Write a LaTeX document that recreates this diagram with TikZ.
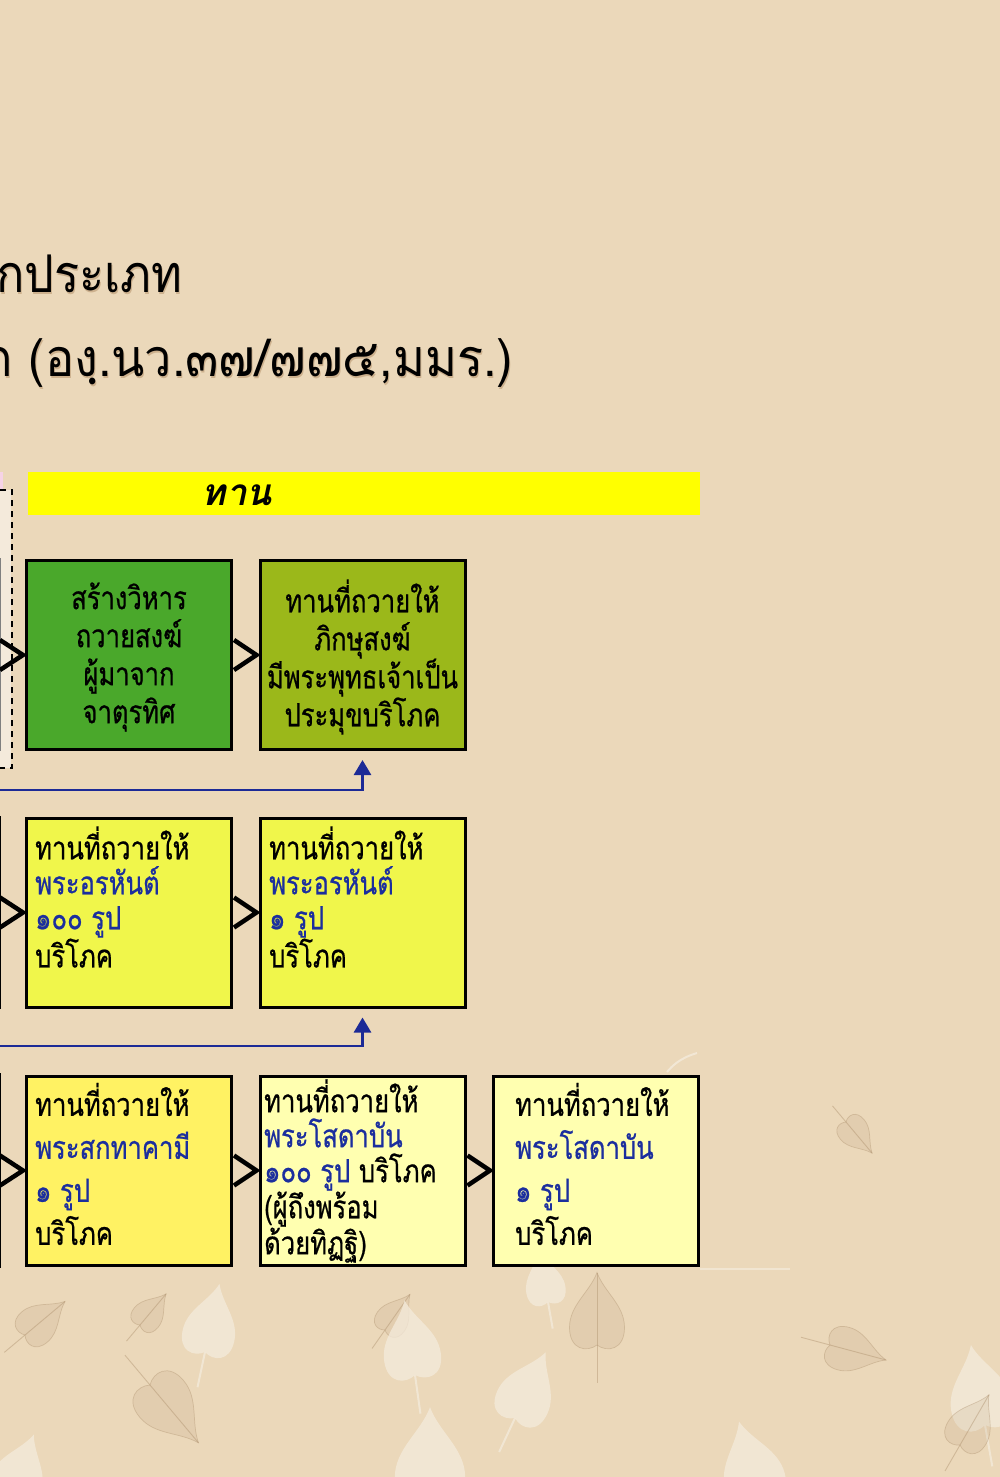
\documentclass[tikz,border=0pt]{standalone}
\usepackage{fontspec}
\newfontfamily\thai[Script=Thai]{Loma}
\newfontfamily\thaiB[Script=Thai,FakeStretch=0.8,FakeBold=0.6]{Loma}
\newfontfamily\thaiT[Script=Thai,FakeStretch=0.9]{Loma}
\newfontfamily\thaiU[Script=Thai,FakeStretch=0.935]{Loma}
\usetikzlibrary{arrows.meta,calc}
\definecolor{bg}{HTML}{EBD8BA}
\definecolor{cream}{HTML}{F4EBDC}
\definecolor{leafbrown}{HTML}{A88A66}
\definecolor{barY}{HTML}{FFFF00}
\definecolor{gA}{HTML}{4AA82B}
\definecolor{gB}{HTML}{9BB81A}
\definecolor{yA}{HTML}{F0F64B}
\definecolor{yB}{HTML}{FFF263}
\definecolor{yC}{HTML}{FFFFB0}
\definecolor{tblue}{HTML}{1B2E9E}
\definecolor{lblue}{HTML}{1C2A96}
\definecolor{pinkS}{HTML}{F6D3E6}
\definecolor{stripW}{HTML}{F4EADB}
\definecolor{shad}{HTML}{8A5A2A}
\tikzset{
 box/.style={draw=black, line width=3pt, minimum width=205pt, minimum height=189pt, inner sep=0pt},
 btxt/.style={font=\thaiB\fontsize{32}{35}\selectfont, inner sep=0pt, align=left, anchor=west},
 ctxt/.style={font=\thaiB\fontsize{32}{38}\selectfont, inner sep=0pt, align=center},
 chev/.style={draw=black, line width=4.5pt, miter limit=10},
 bline/.style={draw=lblue, line width=2.8pt, -{Triangle[width=17pt,length=15pt]}},
 ttl/.style={font=\thaiT\fontsize{52}{60}\selectfont, inner sep=0pt, anchor=base west},
 ttlb/.style={font=\thaiU\fontsize{52}{60}\selectfont, inner sep=0pt, anchor=base west},
 cleaf/.style={fill=cream, opacity=0.75},
 bleaf/.style={fill=leafbrown, fill opacity=0.13, draw=leafbrown, draw opacity=0.35, line width=0.7pt},
}
\newcommand\leafpath{(0,0) .. controls (-8,6) and (-22,4) .. (-22,-14) .. controls (-22,-32) and (-6,-42) .. (0,-58) .. controls (6,-42) and (22,-32) .. (22,-14) .. controls (22,4) and (8,6) .. (0,0) -- cycle}
\newcommand\creamleaf[4]{%
 \begin{scope}[shift={(#1,#2)}, rotate=#3, scale=#4]
  \path[cleaf] \leafpath;
  \draw[cream, opacity=0.75, line width=2pt] (0,0) -- (0,30);
 \end{scope}}
\newcommand\brownleaf[4]{%
 \begin{scope}[shift={(#1,#2)}, rotate=#3, scale=#4]
  \path[bleaf] \leafpath;
  \draw[leafbrown, opacity=0.4, line width=0.9pt] (0,30) -- (0,-58);
 \end{scope}}
\begin{document}
\begin{tikzpicture}[x=1pt,y=-1pt]
\useasboundingbox (0,0) rectangle (1000,1477);
\clip (0,0) rectangle (1000,1477);
\fill[bg] (0,0) rectangle (1000,1477);
% background leaves
\brownleaf{25}{1335}{-50}{0.9}
\brownleaf{140}{1325}{-40}{0.7}
\creamleaf{205}{1352}{-12}{1.2}
\brownleaf{150}{1385}{-140}{1.3}
\brownleaf{385}{1330}{-35}{0.75}
\creamleaf{415}{1375}{8}{1.3}
\creamleaf{515}{1418}{-25}{1.25}
\brownleaf{597}{1345}{0}{1.25}
\creamleaf{548}{1302}{10}{0.9}
\creamleaf{430}{1500}{0}{1.6}
\creamleaf{10}{1500}{-20}{1.2}
\creamleaf{985}{1425}{10}{1.4}
\brownleaf{830}{1345}{-105}{1.0}
\brownleaf{960}{1445}{-30}{1.0}
\creamleaf{760}{1500}{15}{1.4}
\brownleaf{846}{1122}{-140}{0.7}
\draw[cream, line width=2pt, opacity=0.8] (697,1053) .. controls (680,1058) and (672,1066) .. (667,1072);
\draw[cream, line width=1.5pt, opacity=0.7] (700,1269) -- (790,1269);
% title
\node[ttl, text=shad, opacity=0.3] (t1s) at (-3,294) {กประเภท};
\node[ttl] (t1) at (-4,292) {กประเภท};
\node[ttlb, text=shad, opacity=0.3] (t2s) at (-16,378) {ก (องฺ.นว.๓๗/๗๗๕,มมร.)};
\node[ttlb] (t2) at (-17,376) {ก (องฺ.นว.๓๗/๗๗๕,มมร.)};
% left fragments
\fill[pinkS] (0,472) rectangle (3,515);
\fill[stripW] (0,490) rectangle (11,768);
\draw[black, line width=2pt, dash pattern=on 6pt off 5pt] (0,490) -- (12,490) -- (12,768) -- (0,768);
\draw[gray, line width=1.5pt] (0.5,558) -- (0.5,751);
\draw[black, line width=2pt] (0,816) -- (0,1009);
\draw[black, line width=2pt] (0,1073) -- (0,1268);
% bar
\node[fill=barY, minimum width=672pt, minimum height=43pt, inner sep=0pt] (bar) at (364,493.5) {};
\node[font=\thai\bfseries\itshape\fontsize{37}{40}\selectfont, inner sep=0pt] (bart) at (237,495) {ทาน};
% row 1
\node[box, fill=gA] (b11) at (129,655) {};
\node[box, fill=gB] (b12) at (362.5,655) {};
\node[ctxt] (t11) at (129,657) {สร้างวิหาร\\ถวายสงฆ์\\ผู้มาจาก\\จาตุรทิศ};
\node[ctxt] (t12) at (362.5,657) {ทานที่ถวายให้\\ภิกษุสงฆ์\\มีพระพุทธเจ้าเป็น\\ประมุขบริโภค};
% row 2
\node[box, fill=yA] (b21) at (129,912.5) {};
\node[box, fill=yA] (b22) at (362.5,912.5) {};
\node[btxt] (t21) at (35,897) {ทานที่ถวายให้\\\textcolor{tblue}{พระอรหันต์}\\\textcolor{tblue}{๑๐๐ รูป}\\บริโภค};
\node[btxt] (t22) at (269,897) {ทานที่ถวายให้\\\textcolor{tblue}{พระอรหันต์}\\\textcolor{tblue}{๑ รูป}\\บริโภค};
% row 3
\node[box, fill=yB] (b31) at (129,1170.5) {};
\node[box, fill=yC] (b32) at (362.5,1170.5) {};
\node[box, fill=yC] (b33) at (596,1170.5) {};
\node[btxt, font=\thaiB\fontsize{32}{43}\selectfont] (t31) at (35,1164) {ทานที่ถวายให้\\\textcolor{tblue}{พระสกทาคามี}\\\textcolor{tblue}{๑ รูป}\\บริโภค};
\node[btxt] (t32) at (264,1171) {ทานที่ถวายให้\\\textcolor{tblue}{พระโสดาบัน}\\\textcolor{tblue}{๑๐๐ รูป} บริโภค\\(ผู้ถึงพร้อม\\ด้วยทิฏฐิ)};
\node[btxt, font=\thaiB\fontsize{32}{43}\selectfont] (t33) at (515,1164) {ทานที่ถวายให้\\\textcolor{tblue}{พระโสดาบัน}\\\textcolor{tblue}{๑ รูป}\\บริโภค};
% chevrons
\draw[chev] ($(b11.west)+(-25,-15)$) -- ($(b11.west)+(-2,0)$) -- ($(b11.west)+(-25,15)$);
\draw[chev] ($(b11.east)+(1,-15)$) -- ($(b12.west)+(-2,0)$) -- ($(b11.east)+(1,15)$);
\draw[chev] ($(b21.west)+(-25,-15)$) -- ($(b21.west)+(-2,0)$) -- ($(b21.west)+(-25,15)$);
\draw[chev] ($(b21.east)+(1,-15)$) -- ($(b22.west)+(-2,0)$) -- ($(b21.east)+(1,15)$);
\draw[chev] ($(b31.west)+(-25,-15)$) -- ($(b31.west)+(-2,0)$) -- ($(b31.west)+(-25,15)$);
\draw[chev] ($(b31.east)+(1,-15)$) -- ($(b32.west)+(-2,0)$) -- ($(b31.east)+(1,15)$);
\draw[chev] ($(b32.east)+(1,-15)$) -- ($(b33.west)+(-2,0)$) -- ($(b32.east)+(1,15)$);
% blue connectors
\coordinate (e1) at (0,790);
\coordinate (e2) at (0,1046);
\draw[bline] (e1) -| ($(b12.south)+(0,9)$);
\draw[bline] (e2) -| ($(b22.south)+(0,9)$);
\end{tikzpicture}
\end{document}
